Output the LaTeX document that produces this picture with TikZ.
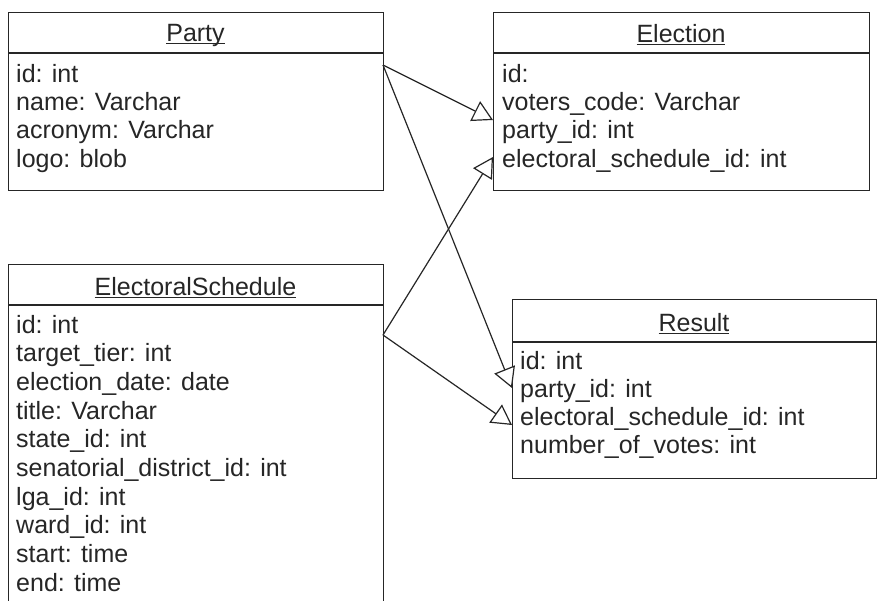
\documentclass[tikz,border=0pt]{standalone}
\usepackage{fontspec}
\setmainfont{Liberation Sans}
\usetikzlibrary{arrows.meta}
\newcommand\hdul[1]{\setbox0\hbox{#1}\rlap{\rule[-3pt]{\wd0}{1.3pt}}\box0}
\tikzset{
  box/.style={draw=black!85, line width=1.4pt, fill=white, anchor=north west, inner sep=0pt},
  sep/.style={draw=black!85, line width=1.4pt},
  hdr/.style={anchor=base, inner sep=0pt, font=\fontsize{25pt}{28pt}\selectfont, text=black!85},
  attr/.style={anchor=base west, inner sep=0pt, font=\fontsize{25pt}{28pt}\selectfont, text=black!85},
  rel/.style={draw=black!85, line width=1.2pt, -{Triangle[open, length=20pt, width=22pt, fill=white]}}
}
\begin{document}
\begin{tikzpicture}[x=1pt, y=-1pt]
\clip (0,0) rectangle (877,600);
\fill[white] (0,0) rectangle (877,600);
% Party
\node[box, minimum width=375pt, minimum height=178pt] (party) at (8,12) {};
\draw[sep] (8,53) -- (383,53);
\node[hdr] (partyh) at (195.5,41) {\hdul{Party}};
\foreach \t [count=\i] in {id: int, name: Varchar, acronym: Varchar, logo: blob}
  \node[attr] (party-\i) at (16,{82+28.4*(\i-1)}) {\t};
% Election
\node[box, minimum width=376pt, minimum height=178pt] (election) at (493,12) {};
\draw[sep] (493,53) -- (869,53);
\node[hdr] (electionh) at (681,42) {\hdul{Election}};
\foreach \t [count=\i] in {id:, voters\_code: Varchar, party\_id: int, electoral\_schedule\_id: int}
  \node[attr] (election-\i) at (502,{82+28.4*(\i-1)}) {\t};
% ElectoralSchedule
\node[box, minimum width=375pt, minimum height=360pt] (sched) at (8,264) {};
\draw[sep] (8,305) -- (383,305);
\node[hdr] (schedh) at (195.5,295) {\hdul{ElectoralSchedule}};
\foreach \t [count=\i] in {id: int, target\_tier: int, election\_date: date, title: Varchar, state\_id: int, senatorial\_district\_id: int, lga\_id: int, ward\_id: int, start: time, end: time}
  \node[attr] (sched-\i) at (16,{333+28.7*(\i-1)}) {\t};
% Result
\node[box, minimum width=364pt, minimum height=179pt] (result) at (512,299) {};
\draw[sep] (512,342) -- (876,342);
\node[hdr] (resulth) at (694,331) {\hdul{Result}};
\foreach \t [count=\i] in {id: int, party\_id: int, electoral\_schedule\_id: int, number\_of\_votes: int}
  \node[attr] (result-\i) at (520,{369+28.3*(\i-1)}) {\t};
% connector points
\coordinate (pR) at (383,65);
\coordinate (sR) at (383,335);
\coordinate (eA) at (493,120);
\coordinate (eB) at (493,157);
\coordinate (rA) at (512,388);
\coordinate (rB) at (512,425);
\draw[rel] (pR) -- (eA);
\draw[rel] (pR) -- (rA);
\draw[rel] (sR) -- (eB);
\draw[rel] (sR) -- (rB);
\end{tikzpicture}
\end{document}
